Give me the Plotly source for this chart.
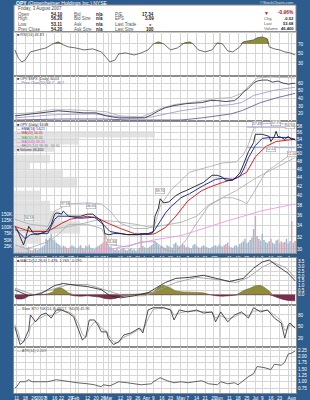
import math
import pandas as pd
import plotly.graph_objects as go

# ======================= DATA =======================
holidays = ["2006-12-25", "2007-01-01", "2007-01-02", "2007-01-15", "2007-02-19",
            "2007-04-06", "2007-05-28", "2007-07-04"]

tick_dates = ["2006-12-11", "2006-12-18", "2006-12-26", "2007-01-03", "2007-01-08", "2007-01-16",
              "2007-01-22", "2007-01-29", "2007-02-01", "2007-02-05", "2007-02-12", "2007-02-20",
              "2007-02-26", "2007-03-01", "2007-03-05", "2007-03-12", "2007-03-19", "2007-03-26",
              "2007-04-02", "2007-04-09", "2007-04-16", "2007-04-23", "2007-05-01", "2007-05-07",
              "2007-05-14", "2007-05-21", "2007-05-29", "2007-06-01", "2007-06-04", "2007-06-11",
              "2007-06-18", "2007-06-25", "2007-07-02", "2007-07-09", "2007-07-16", "2007-07-23",
              "2007-07-30", "2007-08-01"]
tick_text = ["11", "18", "26", "2007", "8", "16", "22", "29", "Feb", "", "12", "20", "26", "Mar", "",
             "12", "19", "26", "Apr", "9", "16", "23", "May", "7", "14", "21", "29", "Jun", "", "11",
             "18", "25", "Jul", "9", "16", "23", "", "Aug"]

# RSI(14)
rsi_dates = ["2006-12-08", "2006-12-12", "2006-12-14", "2006-12-18", "2006-12-21", "2006-12-28",
             "2007-01-08", "2007-01-12", "2007-01-18", "2007-01-23", "2007-01-26", "2007-02-01",
             "2007-02-08", "2007-02-15", "2007-02-23", "2007-02-28", "2007-03-02", "2007-03-07",
             "2007-03-09", "2007-03-15", "2007-03-22", "2007-03-28", "2007-04-03", "2007-04-09",
             "2007-04-12", "2007-04-17", "2007-04-23", "2007-04-27", "2007-05-03", "2007-05-08",
             "2007-05-10", "2007-05-15", "2007-05-21", "2007-05-25", "2007-05-31", "2007-06-05",
             "2007-06-08", "2007-06-13", "2007-06-19", "2007-06-21", "2007-06-26", "2007-06-29",
             "2007-07-03", "2007-07-09", "2007-07-12", "2007-07-13", "2007-07-18", "2007-07-23",
             "2007-07-26", "2007-07-31", "2007-08-03"]
rsi_vals = [57.4, 40.5, 32.1, 36.3, 53.2, 57.4, 61.6, 70.0, 74.2, 67.9, 63.7, 61.6, 57.4, 59.5,
            53.2, 40.5, 32.1, 36.3, 48.9, 51.1, 46.8, 51.1, 57.4, 70.0, 74.2, 70.0, 57.4, 61.6,
            72.1, 74.2, 70.0, 57.4, 53.2, 57.4, 72.1, 70.0, 55.3, 53.2, 63.7, 74.2, 76.3, 78.4,
            82.6, 84.7, 80.5, 63.7, 59.5, 57.4, 53.2, 51.1, 46.8]

# second panel (relative line and its channel)
p2_dates = ["2006-12-08", "2006-12-18", "2006-12-27", "2007-01-11", "2007-01-18", "2007-01-29",
            "2007-02-08", "2007-02-20", "2007-02-28", "2007-03-09", "2007-03-20", "2007-03-30",
            "2007-04-05", "2007-04-12", "2007-04-18", "2007-04-25", "2007-05-04", "2007-05-17",
            "2007-05-24", "2007-05-31", "2007-06-07", "2007-06-14", "2007-06-19", "2007-06-21",
            "2007-06-26", "2007-06-29", "2007-07-03", "2007-07-09", "2007-07-12", "2007-07-17",
            "2007-07-20", "2007-07-25", "2007-07-30", "2007-08-03"]
p2_vals = [17.3, 18.7, 20.0, 22.7, 24.0, 22.7, 21.3, 21.3, 17.3, 14.7, 14.7, 14.7, 18.7, 24.0,
           28.0, 30.7, 33.3, 34.7, 37.3, 37.3, 36.0, 37.3, 42.7, 48.0, 53.3, 60.0, 62.7, 64.0,
           64.0, 61.3, 62.7, 60.0, 58.7, 60.0]
p2_up_dates = ["2006-12-08", "2006-12-21", "2007-01-11", "2007-01-29", "2007-02-15", "2007-02-28",
               "2007-03-12", "2007-03-28", "2007-04-05", "2007-04-13", "2007-04-25", "2007-05-09",
               "2007-05-21", "2007-05-31", "2007-06-12", "2007-06-20", "2007-06-27", "2007-07-03",
               "2007-07-16", "2007-08-03"]
p2_up = [20.0, 21.3, 25.3, 25.3, 24.0, 22.7, 17.3, 16.0, 21.3, 26.7, 32.0, 34.7, 37.3, 40.0,
         41.3, 46.7, 57.3, 66.7, 68.0, 66.7]
p2_mid_dates = ["2006-12-08", "2007-01-11", "2007-02-15", "2007-03-02", "2007-03-20", "2007-04-05",
                "2007-04-18", "2007-05-01", "2007-05-17", "2007-05-31", "2007-06-12", "2007-06-20",
                "2007-06-29", "2007-07-11", "2007-07-18", "2007-08-03"]
p2_mid = [14.7, 18.7, 20.0, 17.3, 14.7, 16.0, 20.0, 24.0, 28.0, 30.7, 32.0, 34.7, 44.0, 48.0,
          50.7, 54.7]
p2_lo_dates = ["2006-12-08", "2007-01-22", "2007-02-23", "2007-03-20", "2007-04-13", "2007-05-01",
               "2007-05-17", "2007-05-31", "2007-06-12", "2007-06-20", "2007-06-27", "2007-07-06",
               "2007-07-20", "2007-08-03"]
p2_lo = [12.0, 13.3, 13.3, 12.0, 12.0, 12.0, 14.7, 17.3, 20.0, 24.0, 29.3, 34.7, 41.3, 46.7]

# price (closes)
price_dates = ["2006-12-08", "2006-12-11", "2006-12-13", "2006-12-14", "2006-12-15", "2006-12-18",
               "2006-12-19", "2006-12-20", "2006-12-22", "2006-12-26", "2006-12-28", "2007-01-03",
               "2007-01-08", "2007-01-09", "2007-01-11", "2007-01-16", "2007-01-17", "2007-01-18",
               "2007-01-22", "2007-01-23", "2007-01-26", "2007-01-31", "2007-02-06", "2007-02-12",
               "2007-02-15", "2007-02-21", "2007-02-23", "2007-02-26", "2007-02-27", "2007-03-01",
               "2007-03-02", "2007-03-06", "2007-03-12", "2007-03-16", "2007-03-22", "2007-03-26",
               "2007-03-28", "2007-04-03", "2007-04-09", "2007-04-10", "2007-04-12", "2007-04-13",
               "2007-04-17", "2007-04-20", "2007-04-26", "2007-05-01", "2007-05-04", "2007-05-10",
               "2007-05-14", "2007-05-18", "2007-05-25", "2007-05-31", "2007-06-05", "2007-06-07",
               "2007-06-13", "2007-06-19", "2007-06-21", "2007-06-25", "2007-06-26", "2007-06-29",
               "2007-07-02", "2007-07-05", "2007-07-09", "2007-07-13", "2007-07-16", "2007-07-18",
               "2007-07-19", "2007-07-20", "2007-07-24", "2007-07-26", "2007-07-30", "2007-08-01",
               "2007-08-02", "2007-08-03"]
price_close = [33.85, 33.48, 32.04, 31.17, 30.67, 31.51, 32.57, 33.85, 32.93, 32.57, 32.39, 32.57,
               32.93, 33.30, 34.23, 36.16, 36.36, 36.36, 36.16, 36.76, 35.76, 35.76, 35.76, 36.16,
               36.16, 35.37, 34.79, 34.23, 32.57, 32.39, 32.39, 32.57, 32.57, 32.39, 32.39, 32.39,
               32.57, 32.57, 32.93, 35.76, 37.37, 39.26, 38.41, 38.60, 39.92, 40.58, 41.03, 41.71,
               42.17, 42.87, 44.55, 44.55, 44.07, 43.35, 43.35, 45.05, 47.07, 49.73, 50.55, 53.12,
               55.51, 55.51, 55.51, 54.90, 53.41, 54.90, 56.43, 54.90, 54.59, 54.00, 54.90, 54.00,
               54.20, 53.68]

ema_dates = ["2006-12-08", "2006-12-13", "2006-12-18", "2006-12-21", "2006-12-28", "2007-01-09",
             "2007-01-16", "2007-01-18", "2007-01-26", "2007-02-06", "2007-02-16", "2007-02-26",
             "2007-03-02", "2007-03-16", "2007-03-28", "2007-04-05", "2007-04-10", "2007-04-13",
             "2007-04-18", "2007-04-23", "2007-04-26", "2007-05-01", "2007-05-08", "2007-05-18",
             "2007-05-30", "2007-06-05", "2007-06-13", "2007-06-19", "2007-06-21", "2007-06-26",
             "2007-07-02", "2007-07-09", "2007-07-16", "2007-07-24", "2007-07-30", "2007-08-03"]
ema_vals = [33.50, 32.57, 31.69, 32.39, 32.57, 32.57, 35.18, 35.76, 35.76, 35.37, 35.57, 34.23,
            32.93, 32.39, 32.39, 32.57, 33.30, 34.79, 36.36, 37.58, 38.62, 39.48, 40.36, 42.17,
            43.58, 43.83, 43.58, 44.31, 45.79, 48.91, 52.25, 54.30, 54.59, 54.59, 54.59, 54.00]

ma20_dates = ["2006-12-08", "2006-12-21", "2007-01-09", "2007-01-22", "2007-01-29", "2007-02-12",
              "2007-02-21", "2007-03-01", "2007-03-12", "2007-03-22", "2007-04-03", "2007-04-10",
              "2007-04-18", "2007-04-26", "2007-05-07", "2007-05-17", "2007-05-23", "2007-06-05",
              "2007-06-15", "2007-06-25", "2007-07-02", "2007-07-11", "2007-07-19", "2007-08-03"]
ma20_vals = [33.85, 32.93, 32.93, 34.41, 35.18, 35.76, 35.37, 34.41, 33.48, 32.57, 32.39, 32.57,
             33.66, 35.76, 38.84, 41.03, 41.71, 42.87, 43.83, 45.29, 49.18, 51.97, 53.41, 54.05]

bb_up_dates = ["2006-12-08", "2006-12-21", "2007-01-09", "2007-01-16", "2007-01-26", "2007-02-12",
               "2007-02-23", "2007-03-02", "2007-03-12", "2007-03-22", "2007-04-03", "2007-04-10",
               "2007-04-13", "2007-04-23", "2007-05-08", "2007-05-23", "2007-06-05", "2007-06-15",
               "2007-06-21", "2007-06-26", "2007-06-29", "2007-07-02", "2007-07-19", "2007-08-03"]
bb_up = [35.18, 34.23, 33.85, 36.76, 38.20, 38.41, 38.20, 36.76, 34.41, 33.48, 33.48, 34.23,
         37.78, 41.03, 45.29, 46.55, 47.59, 47.85, 49.73, 52.54, 57.05, 58.64, 58.96, 58.30]
bb_lo_dates = ["2006-12-08", "2006-12-19", "2007-01-09", "2007-01-18", "2007-01-26", "2007-02-12",
               "2007-02-23", "2007-03-02", "2007-03-16", "2007-03-28", "2007-04-10", "2007-04-18",
               "2007-04-26", "2007-05-04", "2007-05-14", "2007-05-23", "2007-06-05", "2007-06-13",
               "2007-06-20", "2007-06-25", "2007-06-29", "2007-07-11", "2007-07-25", "2007-08-03"]
bb_lo = [30.67, 30.00, 31.17, 32.39, 34.23, 34.23, 33.48, 30.67, 30.33, 31.17, 31.17, 29.83,
         29.51, 31.51, 34.41, 37.78, 39.48, 39.48, 38.84, 38.20, 40.58, 45.29, 48.40, 50.60]

ma50_dates = ["2006-12-08", "2007-01-03", "2007-01-29", "2007-02-20", "2007-03-07", "2007-03-23",
              "2007-04-05", "2007-04-18", "2007-05-01", "2007-05-14", "2007-05-23", "2007-06-05",
              "2007-06-15", "2007-07-02", "2007-07-19", "2007-08-03"]
ma50_vals = [33.11, 33.11, 33.85, 34.99, 34.79, 34.23, 33.66, 34.04, 34.60, 35.76, 37.99, 39.48,
             41.03, 43.83, 46.55, 49.00]

ma200_dates = ["2006-12-08", "2007-01-16", "2007-02-21", "2007-04-10", "2007-05-01", "2007-06-07",
               "2007-07-06", "2007-08-03"]
ma200_vals = [28.40, 28.90, 29.51, 31.51, 32.22, 34.79, 36.76, 38.20]

level_dates = ["2007-06-25", "2007-08-03"]
level_high = 57.68
level_low = 51.68

swing_dates = ["2006-12-20", "2007-01-24", "2007-02-14", "2007-03-05", "2007-04-13",
               "2007-07-03", "2007-07-19", "2007-07-31", "2007-07-16", "2007-08-01"]
swing_prices = [34.6, 37.3, 36.9, 31.8, 40.1, 57.5, 57.8, 56.9, 52.5, 51.0]
swing_text = ["34.59", "37.26", "36.95", "31.84", "39.70", "57.49", "57.75", "56.90", "52.51", "51.00"]
swing_side = ["up", "up", "up", "down", "up", "up", "up", "up", "down", "down"]

# daily volume, thousands of shares (one value per trading day)
volume_k = [22, 30, 18, 25, 35, 28, 15, 20, 24, 12, 10, 14, 18, 12, 16,
            20, 25, 30, 55, 50, 58, 75, 52, 48, 40, 35, 30, 22, 28, 25, 20, 18, 24, 30, 26,
            22, 18, 25, 30, 20, 16, 28, 24, 32, 20, 18, 15, 22, 26, 30, 35, 40, 77, 45,
            30, 25, 20, 15, 12, 18, 10, 14, 16, 20, 12, 10, 15, 18, 12, 14, 10, 16, 20, 73, 28, 22,
            18, 20, 25, 30, 35, 45, 38, 30, 25, 28, 22, 20, 30, 26, 24, 20, 35, 40, 30, 25,
            28, 35, 30, 22, 25, 20, 18, 30, 35, 28, 22, 20, 25, 30, 26, 22, 20, 18, 24, 28, 30, 25,
            32, 28, 24, 30, 35, 40, 26, 22, 20, 28, 30, 24, 35, 40, 45, 55, 38, 42, 50, 60, 92,
            142, 65, 55, 48, 73, 50, 42, 38, 45, 55, 40, 35, 48, 52, 38, 45, 40, 42, 55, 38, 45,
            123, 40, 46.4]
down_days = ["2006-12-12", "2006-12-13", "2006-12-14", "2006-12-15", "2006-12-21", "2006-12-22",
             "2007-01-25", "2007-01-26", "2007-02-07", "2007-02-21", "2007-02-23", "2007-02-26",
             "2007-02-27", "2007-02-28", "2007-03-05", "2007-03-13", "2007-03-28", "2007-04-17",
             "2007-04-18", "2007-05-03", "2007-05-16", "2007-06-06", "2007-06-07", "2007-06-12",
             "2007-07-02", "2007-07-05", "2007-07-16", "2007-07-20", "2007-07-24", "2007-07-25",
             "2007-07-26", "2007-08-01", "2007-08-03"]

# volume by price (price zone low/high, thousands of shares)
vbp_lo = [54.59, 52.54, 50.55, 47.59, 45.79, 43.83, 41.71, 38.84, 36.76, 34.79, 32.57, 30.84, 29.51]
vbp_hi = [56.43, 54.59, 52.54, 49.73, 47.59, 45.79, 43.83, 41.03, 38.84, 36.76, 34.79, 32.39, 30.84]
vbp_vol = [1410, 650, 410, 360, 160, 490, 630, 260, 360, 460, 660, 260, 130]

# MACD(12,26,9)
macd_dates = ["2006-12-08", "2006-12-11", "2006-12-20", "2007-01-03", "2007-01-16", "2007-01-23",
              "2007-02-02", "2007-02-12", "2007-02-23", "2007-03-02", "2007-03-12", "2007-03-22",
              "2007-04-03", "2007-04-10", "2007-04-18", "2007-04-26", "2007-05-08", "2007-05-18",
              "2007-05-30", "2007-06-11", "2007-06-21", "2007-06-29", "2007-07-09", "2007-07-13",
              "2007-07-19", "2007-07-30", "2007-08-03"]
macd_vals = [0.55, 0.43, -0.11, 0.11, 0.98, 1.20, 0.98, 0.87, 0.54, -0.11, -0.33, -0.11, 0.22,
             0.65, 1.30, 1.74, 1.85, 2.07, 1.74, 1.41, 1.74, 2.83, 3.48, 3.70, 3.15, 2.28, 1.48]
signal_dates = ["2006-12-08", "2006-12-26", "2007-01-16", "2007-01-26", "2007-02-12", "2007-03-01",
                "2007-03-14", "2007-03-30", "2007-04-10", "2007-04-26", "2007-05-14", "2007-05-30",
                "2007-06-15", "2007-06-26", "2007-07-09", "2007-07-17", "2007-07-27", "2007-08-03"]
signal_vals = [0.70, 0.00, 0.65, 1.09, 1.09, 0.43, -0.11, -0.11, 0.33, 1.30, 1.85, 1.63, 1.30,
               1.85, 2.93, 3.48, 2.83, 1.77]
hist_dates = ["2006-12-08", "2006-12-11", "2006-12-14", "2006-12-18", "2006-12-20", "2006-12-26",
              "2007-01-03", "2007-01-09", "2007-01-12", "2007-01-16", "2007-01-19", "2007-01-23",
              "2007-01-26", "2007-01-31", "2007-02-06", "2007-02-12", "2007-02-16", "2007-02-22",
              "2007-02-27", "2007-03-02", "2007-03-07", "2007-03-12", "2007-03-16", "2007-03-22",
              "2007-03-28", "2007-04-03", "2007-04-09", "2007-04-12", "2007-04-17", "2007-04-20",
              "2007-04-26", "2007-05-02", "2007-05-08", "2007-05-14", "2007-05-18", "2007-05-24",
              "2007-05-30", "2007-06-05", "2007-06-11", "2007-06-15", "2007-06-19", "2007-06-22",
              "2007-06-27", "2007-07-02", "2007-07-06", "2007-07-10", "2007-07-13", "2007-07-17",
              "2007-07-20", "2007-07-25", "2007-07-30", "2007-08-03"]
hist_vals = [-0.20, -0.45, -0.45, -0.35, -0.10, 0.05, 0.00, 0.10, 0.30, 0.60, 0.76, 0.60, 0.20,
             -0.10, -0.15, -0.10, -0.15, -0.25, -0.40, -0.45, -0.40, -0.20, -0.10, 0.05, 0.10,
             0.20, 0.30, 0.80, 1.00, 0.80, 0.40, 0.30, 0.30, 0.25, 0.20, 0.00, -0.10, -0.15,
             -0.10, 0.00, 0.20, 0.50, 0.70, 0.95, 1.00, 0.80, 0.40, -0.10, -0.30, -0.50, -0.60,
             -0.65]

# Slow stochastic
sto_dates = ["2006-12-08", "2006-12-12", "2006-12-13", "2006-12-15", "2006-12-20", "2006-12-21",
             "2006-12-27", "2007-01-03", "2007-01-08", "2007-01-11", "2007-01-17", "2007-01-22",
             "2007-01-26", "2007-01-31", "2007-02-05", "2007-02-07", "2007-02-09", "2007-02-13",
             "2007-02-16", "2007-02-21", "2007-02-23", "2007-02-28", "2007-03-01", "2007-03-06",
             "2007-03-09", "2007-03-14", "2007-03-20", "2007-03-23", "2007-03-27", "2007-03-29",
             "2007-04-03", "2007-04-09", "2007-04-17", "2007-04-23", "2007-04-25", "2007-04-30",
             "2007-05-07", "2007-05-14", "2007-05-18", "2007-05-25", "2007-05-30", "2007-06-04",
             "2007-06-08", "2007-06-14", "2007-06-20", "2007-06-26", "2007-06-29", "2007-07-06",
             "2007-07-12", "2007-07-18", "2007-07-24", "2007-07-26", "2007-07-30", "2007-07-31",
             "2007-08-03"]
sto_k = [49, 20, 3, 10, 41, 80, 62, 80, 85, 72, 93, 93, 85, 75, 36, 15, 23, 67, 67, 54, 36, 36,
         20, 3, 10, 28, 33, 41, 46, 33, 93, 99, 99, 93, 67, 93, 88, 93, 85, 88, 62, 88, 62, 80,
         88, 72, 99, 88, 93, 72, 59, 20, 54, 59, 46]
sto_d = [55, 35, 15, 10, 25, 50, 65, 72, 80, 78, 85, 92, 88, 80, 55, 30, 22, 45, 62, 60, 45, 38,
         28, 10, 8, 22, 30, 38, 43, 40, 70, 95, 98, 95, 80, 85, 90, 90, 88, 87, 72, 78, 70, 75,
         85, 78, 90, 92, 92, 80, 65, 40, 45, 55, 46]

# ATR(14)
atr_dates = ["2006-12-08", "2006-12-11", "2006-12-13", "2006-12-18", "2006-12-20", "2006-12-22",
             "2006-12-28", "2007-01-09", "2007-01-17", "2007-01-26", "2007-02-02", "2007-02-12",
             "2007-02-16", "2007-02-23", "2007-02-26", "2007-03-02", "2007-03-09", "2007-03-16",
             "2007-03-28", "2007-04-05", "2007-04-09", "2007-04-13", "2007-04-19", "2007-04-25",
             "2007-05-01", "2007-05-07", "2007-05-10", "2007-05-17", "2007-05-23", "2007-05-31",
             "2007-06-04", "2007-06-08", "2007-06-14", "2007-06-18", "2007-06-26", "2007-06-29",
             "2007-07-03", "2007-07-10", "2007-07-16", "2007-07-18", "2007-07-24", "2007-07-26",
             "2007-07-30", "2007-08-01", "2007-08-03"]
atr_vals = [0.76, 0.80, 1.00, 1.00, 1.08, 1.00, 1.00, 1.00, 1.08, 1.00, 0.96, 0.92, 0.88, 0.80,
            0.88, 0.84, 1.00, 0.96, 0.88, 0.92, 1.00, 1.16, 1.04, 0.96, 1.00, 0.96, 1.00, 1.04,
            0.92, 0.88, 1.00, 0.92, 0.96, 0.88, 1.20, 1.32, 1.60, 1.56, 1.48, 1.69, 1.65, 1.77,
            2.09, 2.13, 2.21]

# header quote block
quote_labels_1 = ["Open", "High", "Low", "Prev Close"]
quote_values_1 = ["54.10", "56.20", "53.11", "54.20"]
quote_labels_2 = ["Bid", "Bid Size", "Ask", "Ask Size"]
quote_values_2 = ["n/a", "n/a", "n/a", "n/a"]
quote_labels_3 = ["P/E", "EPS", "Last Trade", "Last Size"]
quote_values_3 = ["17.34", "3.09", "", "100"]
quote_labels_4 = ["Chg", "Last", "Volume"]
quote_values_4 = ["-0.52", "53.68", "46,400"]

# ======================= STYLE / LAYOUT =======================
W, H = 310, 400
ML, MR = 14, 14
PW = W - ML - MR
BLUE = '#2d5c8e'
GRID = '#d6d6d6'
FRAME = '#8c8c8c'
FONT = 'Liberation Sans, Arial, sans-serif'
OLIVE = '#8f8c3c'
MAROON = '#7a2c52'


def fx(xp):
    return (xp - ML) / PW


def fy(yp):
    return 1 - yp / H


def dom(top, bottom):
    return [fy(bottom), fy(top)]


days = [d.strftime('%Y-%m-%d') for d in pd.bdate_range('2006-12-08', '2007-08-03')]
days = [d for d in days if d not in holidays]

x_range = ['2006-12-07 12:00', '2007-08-03 12:00']
rbreaks = [dict(bounds=['sat', 'mon']), dict(values=holidays)]

P_RSI = (32, 76)
P_P2 = (76, 121)
P_MAIN = (121, 253)
P_MACD = (258, 305)
P_STO = (305, 347)
P_ATR = (347, 393)

TICKFONT = dict(color='white', size=4.6, family=FONT)

fig = go.Figure()


def line(x, y, xa, ya, color, width=0.9, dash=None):
    fig.add_trace(go.Scatter(x=x, y=y, mode='lines', xaxis=xa, yaxis=ya,
                             line=dict(color=color, width=width, dash=dash),
                             hoverinfo='skip'))


# --- RSI panel ---
fig.add_trace(go.Scatter(x=rsi_dates, y=[70] * len(rsi_dates), mode='lines', line=dict(width=0),
                         xaxis='x', yaxis='y', hoverinfo='skip'))
fig.add_trace(go.Scatter(x=rsi_dates, y=[max(v, 70) for v in rsi_vals], mode='lines',
                         line=dict(width=0), fill='tonexty', fillcolor=OLIVE,
                         xaxis='x', yaxis='y', hoverinfo='skip'))
line(rsi_dates, rsi_vals, 'x', 'y', '#4a4a4a', 0.8)

# --- panel 2 ---
line(p2_up_dates, p2_up, 'x7', 'y2', '#a8a8a8', 0.8)
line(p2_mid_dates, p2_mid, 'x7', 'y2', '#9a92c8', 0.8)
line(p2_lo_dates, p2_lo, 'x7', 'y2', '#5a4f8f', 0.8)
line(p2_dates, p2_vals, 'x7', 'y2', '#3a3550', 0.9)

# --- main panel: volume (base), volume-by-price, price overlays ---
vol_colors = ['#d3a6b6' if d in down_days else '#a4b6ca' for d in days]
fig.add_trace(go.Bar(x=days, y=volume_k, xaxis='x3', yaxis='y3', marker=dict(color=vol_colors,
                     line=dict(width=0)), hoverinfo='skip'))
fig.add_trace(go.Bar(y=[(a + b) / 2 for a, b in zip(vbp_lo, vbp_hi)], x=vbp_vol,
                     width=[b - a for a, b in zip(vbp_lo, vbp_hi)], orientation='h',
                     xaxis='x2', yaxis='y7', marker=dict(color='#d9d9d9', line=dict(width=0)),
                     opacity=0.75, hoverinfo='skip'))
line(ma200_dates, ma200_vals, 'x3', 'y8', '#ee9ae8', 0.9)
line(ma50_dates, ma50_vals, 'x3', 'y8', '#a9b7a9', 0.9)
line(bb_up_dates, bb_up, 'x3', 'y8', '#a6a6b4', 0.8)
line(bb_lo_dates, bb_lo, 'x3', 'y8', '#a6a6b4', 0.8)
line(level_dates, [level_high] * 2, 'x3', 'y8', '#a3a8d8', 1.0)
line(level_dates, [level_low] * 2, 'x3', 'y8', '#a3a8d8', 1.0)
line(ma20_dates, ma20_vals, 'x3', 'y8', '#e02020', 1.0)
line(ema_dates, ema_vals, 'x3', 'y8', '#2030b0', 1.0)
line(price_dates, price_close, 'x3', 'y8', '#1a1a1a', 0.9)

# --- MACD ---
fig.add_trace(go.Scatter(x=hist_dates, y=[max(v, 0) for v in hist_vals], mode='lines',
                         line=dict(width=0.6, color='#6e6b2a'), fill='tozeroy', fillcolor=OLIVE,
                         xaxis='x4', yaxis='y4', hoverinfo='skip'))
fig.add_trace(go.Scatter(x=hist_dates, y=[min(v, 0) for v in hist_vals], mode='lines',
                         line=dict(width=0.6, color='#5a1e3c'), fill='tozeroy', fillcolor=MAROON,
                         xaxis='x4', yaxis='y4', hoverinfo='skip'))
line(signal_dates, signal_vals, 'x4', 'y4', '#a0a0a0', 0.9)
line(macd_dates, macd_vals, 'x4', 'y4', '#303030', 0.9)

# --- Slow stochastic ---
line(sto_dates, sto_d, 'x5', 'y5', '#a8a8a8', 0.9)
line(sto_dates, sto_k, 'x5', 'y5', '#3a3a3a', 0.9)

# --- ATR ---
line(atr_dates, atr_vals, 'x6', 'y6', '#555555', 0.9)

# ---------------- axes ----------------


def xax(anchor, labels=False, match=True):
    d = dict(anchor=anchor, domain=[0, 1], type='date', range=x_range, rangebreaks=rbreaks,
             tickmode='array', tickvals=tick_dates, ticktext=tick_text, showticklabels=labels,
             tickangle=0, ticks='', ticklen=0, tickfont=TICKFONT, showgrid=True, gridcolor=GRID,
             gridwidth=1, zeroline=False, showline=True, linecolor=FRAME, linewidth=1,
             mirror=True, fixedrange=True)
    if match:
        d['matches'] = 'x'
    return d


def yax(anchor, panel, rng, vals, text=None, side='right', grid=True, **kw):
    d = dict(anchor=anchor, domain=dom(*panel), range=rng, side=side, tickmode='array',
             tickvals=vals, ticktext=text if text is not None else [str(v) for v in vals],
             tickangle=0, ticks='', ticklen=0, tickfont=TICKFONT, showgrid=grid, gridcolor=GRID,
             gridwidth=1, zeroline=False, showline=True, linecolor=FRAME, linewidth=1,
             mirror=True, fixedrange=True)
    d.update(kw)
    return d


price_ticks = list(range(30, 60, 2))
log_rng = [math.log10(29.35), math.log10(59.62)]

fig.update_layout(
    width=W, height=H,
    margin=dict(l=ML, r=MR, t=0, b=0, pad=0),
    paper_bgcolor=BLUE, plot_bgcolor='white',
    showlegend=False, bargap=0.15,
    font=dict(family=FONT, size=5, color='#333333'),
    xaxis=xax('y', match=False),
    xaxis7=xax('y2'),
    xaxis3=xax('y3', labels=True),
    xaxis4=xax('y4'),
    xaxis5=xax('y5'),
    xaxis6=xax('y6', labels=True),
    xaxis2=dict(overlaying='x3', anchor='y3', range=[0, 2820], visible=False, fixedrange=True),
    yaxis=yax('x', P_RSI, [2.6, 95], [30, 50, 70]),
    yaxis2=yax('x7', P_P2, [10.7, 69.3], [20, 30, 40, 50, 60]),
    yaxis3=yax('x3', P_MAIN, [0, 508], [25, 50, 75, 100, 125, 150],
               ['25K', '50K', '75K', '100K', '125K', '150K'], side='left', grid=False),
    yaxis7=dict(overlaying='y3', anchor='x3', type='log', range=log_rng, visible=False,
                fixedrange=True),
    yaxis8=dict(overlaying='y3', anchor='x3', type='log', range=log_rng, side='right',
                tickmode='array', tickvals=price_ticks, ticktext=[str(v) for v in price_ticks],
                tickangle=0, ticks='', tickfont=TICKFONT, showgrid=True, gridcolor=GRID,
                gridwidth=1, zeroline=False, showline=False, fixedrange=True),
    yaxis4=yax('x4', P_MACD, [-1.09, 3.91], [0, 0.5, 1, 1.5, 2, 2.5, 3, 3.5],
               ['0.0', '0.5', '1.0', '1.5', '2.0', '2.5', '3.0', '3.5']),
    yaxis5=yax('x5', P_STO, [-3.4, 106], [20, 50, 80]),
    yaxis6=yax('x6', P_ATR, [0.556, 2.37], [0.75, 1.0, 1.25, 1.5, 1.75, 2.0, 2.25],
               ['0.75', '1.00', '1.25', '1.50', '1.75', '2.00', '2.25']),
)

# ---------------- header / labels ----------------
anns = []
shapes = [dict(type='rect', xref='paper', yref='paper', x0=0, x1=1, y0=fy(32), y1=fy(5),
               fillcolor='white', line=dict(color=FRAME, width=1), layer='below')]


def txt(xp, yp, s, size=4.5, color='#333333', anchor='left'):
    anns.append(dict(xref='paper', yref='paper', x=fx(xp), y=fy(yp), text=s, showarrow=False,
                     xanchor=anchor, yanchor='middle', borderpad=0,
                     font=dict(size=size, color=color, family=FONT)))


txt(15, 2.6, '<b>OPY</b> (Oppenheimer Holdings Inc.) NYSE', 5, 'white')
txt(295, 2.6, '\u00a9StockCharts.com', 4, '#dfe8f2', 'right')
txt(17, 9, 'Friday, 3 August 2007', 4.5, '#444444')
for i, yp in enumerate([14, 19, 24, 29]):
    txt(17, yp, quote_labels_1[i], 4.5, '#555555')
    txt(64, yp, '<b>' + quote_values_1[i] + '</b>', 4.5, '#222222', 'right')
    txt(73, yp, quote_labels_2[i], 4.5, '#555555')
    txt(104, yp, '<b>' + quote_values_2[i] + '</b>', 4.5, '#222222', 'right')
    txt(114, yp, quote_labels_3[i], 4.5, '#555555')
    txt(155, yp, '<b>' + quote_values_3[i] + '</b>', 4.5, '#222222', 'right')
txt(153, 24, '\u25cf', 4, '#cc1111', 'right')
txt(263, 13, '\u25bc', 5, '#b01020')
txt(295, 13, '<b>-0.96%</b>', 4.8, '#b01020', 'right')
for i, yp in enumerate([18, 23, 28]):
    txt(263, yp, quote_labels_4[i], 4.1, '#555555')
    txt(295, yp, '<b>' + quote_values_4[i] + '</b>', 4.1, '#222222', 'right')

# panel legends
txt(15.5, 34.6, '<b>\u25a0</b> RSI(14) 46.83', 3.8, '#444444')
txt(15.5, 79, '\u25a0 OPY:$SPX (Daily) 60.03', 3.6, '#3a3550')
txt(15.5, 83.4, '\u2014 Price Chan(20) 66.7 - 46.7', 3.6, '#6a60a0')
legend_rows = [('\u25a0 OPY (Daily) 53.68', '#222222'),
               ('\u2014 EMA(10) 54.21', '#2030b0'),
               ('\u2014 MA(20) 54.05', '#d02020'),
               ('\u2014 MA(50) 49.00', '#3f9f3f'),
               ('\u2014 MA(200) 38.20', '#d050d0'),
               ('\u2014 BB(20,2.0) 58.30 - 50.60', '#7a7a90'),
               ('\u25a0 Volume 46,400', '#333333')]
for i, (s, c) in enumerate(legend_rows):
    txt(15.5, 125.2 + 4.1 * i, s, 3.5, c)
txt(15.5, 261, '\u25a0 MACD(12,26,9) 1.478, 1.769, -0.291', 3.8, '#333333')
txt(15.5, 308.5, '\u2014 Slow STO %K(14,3) 46.17, %D(3) 45.95', 3.8, '#333333')
txt(15.5, 351, '\u2014 ATR(14) 2.209', 3.8, '#555555')

# swing high / low price labels
for d, p, s, side in zip(swing_dates, swing_prices, swing_text, swing_side):
    anns.append(dict(xref='x3', yref='y8', x=d, y=math.log10(p), text=s, showarrow=False,
                     yanchor='bottom' if side == 'up' else 'top', yshift=1 if side == 'up' else -1,
                     font=dict(size=3.4, color='#444444', family=FONT), bgcolor='white',
                     bordercolor='#999999', borderwidth=0.5, borderpad=0.3))

fig.update_layout(annotations=anns, shapes=shapes)

fig.write_html('out.html', include_plotlyjs=True, config={'displayModeBar': False,
                                                           'staticPlot': True})
